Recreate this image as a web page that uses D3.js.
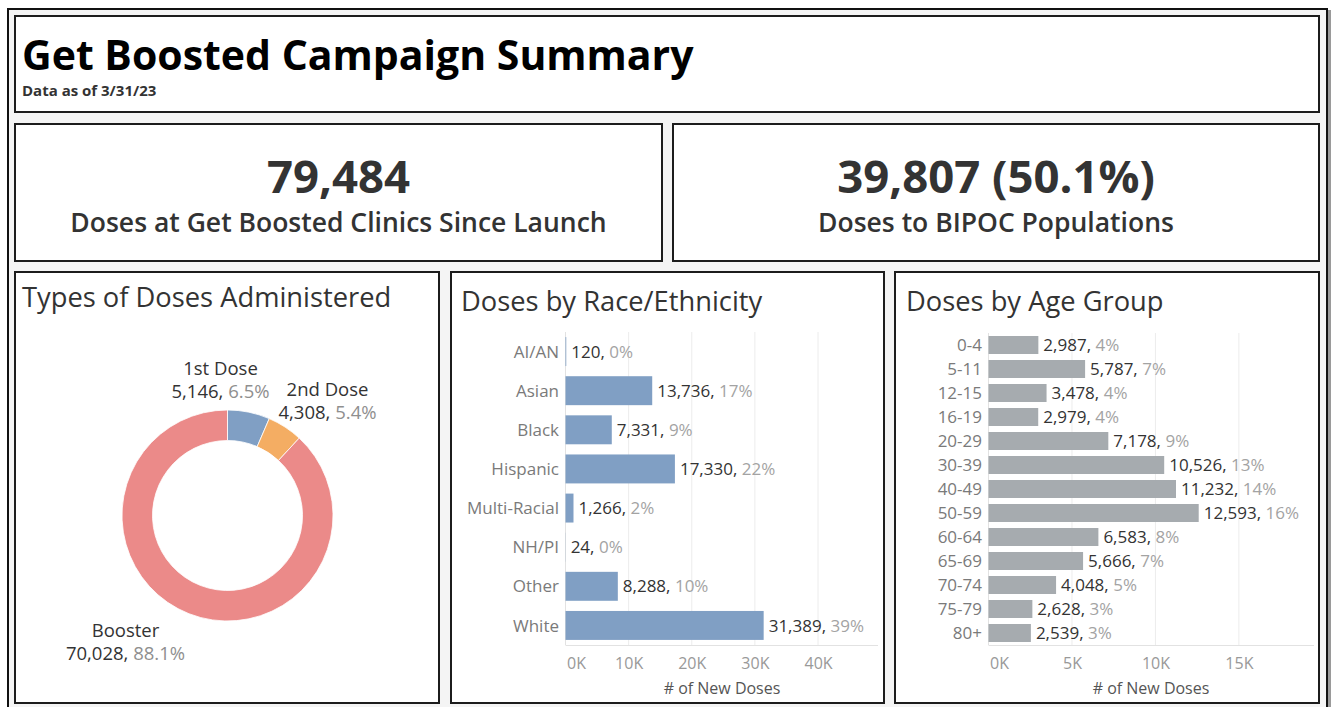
<!DOCTYPE html>
<html>
<head>
<meta charset="utf-8">
<script src="https://cdn.jsdelivr.net/npm/d3@7"></script>
<style>
  html, body { margin: 0; padding: 0; background: #fff; }
  svg { display: block; font-family: "Open Sans", "Noto Sans", sans-serif; }
</style>
</head>
<body>
<div id="dash"></div>
<script>
// ---- data ----
const doseTypes = ["1st Dose", "2nd Dose", "Booster"];
const doseValues = [5146, 4308, 70028];
const dosePct = ["6.5%", "5.4%", "88.1%"];

const raceCats = ["AI/AN", "Asian", "Black", "Hispanic", "Multi-Racial", "NH/PI", "Other", "White"];
const raceValues = [120, 13736, 7331, 17330, 1266, 24, 8288, 31389];
const racePct = ["0%", "17%", "9%", "22%", "2%", "0%", "10%", "39%"];
const raceTicks = [0, 10000, 20000, 30000, 40000];

const ageCats = ["0-4", "5-11", "12-15", "16-19", "20-29", "30-39", "40-49", "50-59", "60-64", "65-69", "70-74", "75-79", "80+"];
const ageValues = [2987, 5787, 3478, 2979, 7178, 10526, 11232, 12593, 6583, 5666, 4048, 2628, 2539];
const agePct = ["4%", "7%", "4%", "4%", "9%", "13%", "14%", "16%", "8%", "7%", "5%", "3%", "3%"];
const ageTicks = [0, 5000, 10000, 15000];

const kpis = [
    { value: "79,484", label: "Doses at Get Boosted Clinics Since Launch" },
    { value: "39,807 (50.1%)", label: "Doses to BIPOC Populations" }
];

// ---- layout ----
const width = 1331, height = 707;
const svg = d3.select('#dash').append('svg')
    .attr('width', width)
    .attr('height', height);

// 外框 + 灰色背景
svg.append('rect')
    .attr('x', 1328).attr('y', 10).attr('width', 3).attr('height', 697)
    .attr('fill', '#9a9a9a');
svg.append('rect')
    .attr('x', 8).attr('y', 9).attr('width', 1319).attr('height', 705)
    .attr('fill', '#f4f4f4').attr('stroke', '#111').attr('stroke-width', 2);

const panels = {
    title: { x: 15, y: 16, w: 1304, h: 96 },
    kpi1: { x: 15, y: 124, w: 647, h: 137 },
    kpi2: { x: 673, y: 124, w: 646, h: 137 },
    donut: { x: 15, y: 272, w: 424, h: 431 },
    race: { x: 451, y: 272, w: 433, h: 431 },
    age: { x: 895, y: 272, w: 424, h: 431 }
};

Object.values(panels).forEach(p => {
    svg.append('rect')
        .attr('x', p.x).attr('y', p.y).attr('width', p.w).attr('height', p.h)
        .attr('fill', '#fff')
        .attr('stroke', '#1c1c1c')
        .attr('stroke-width', 2);
});

// 标题
svg.append('text')
    .attr('x', 22).attr('y', 70)
    .style('font-size', '41px').style('font-weight', 'bold')
    .attr('fill', '#000')
    .text('Get Boosted Campaign Summary');
svg.append('text')
    .attr('x', 22).attr('y', 96)
    .style('font-size', '15px').style('font-weight', 'bold')
    .attr('fill', '#333')
    .text('Data as of 3/31/23');

// KPI
[panels.kpi1, panels.kpi2].forEach((p, i) => {
    const cx = p.x + p.w / 2;
    svg.append('text')
        .attr('x', cx).attr('y', 193)
        .attr('text-anchor', 'middle')
        .style('font-size', '45.5px').style('font-weight', 'bold')
        .attr('fill', '#333')
        .text(kpis[i].value);
    svg.append('text')
        .attr('x', cx).attr('y', 232)
        .attr('text-anchor', 'middle')
        .style('font-size', '26.5px').style('font-weight', '600')
        .attr('fill', '#333')
        .text(kpis[i].label);
});

// 面板标题
function panelTitle(x, y, t) {
    svg.append('text')
        .attr('x', x).attr('y', y)
        .style('font-size', '27.3px')
        .attr('fill', '#333')
        .text(t);
}
panelTitle(22, 307, 'Types of Doses Administered');
panelTitle(461, 311, 'Doses by Race/Ethnicity');
panelTitle(906, 311, 'Doses by Age Group');

// ---- donut ----
const doseColor = d3.scaleOrdinal()
    .domain(doseTypes)
    .range(['#809fc4', '#f4ad63', '#eb8a89']);

const pie = d3.pie().sort(null).value((d, i) => doseValues[i]);
const arcs = pie(doseTypes);
const arc = d3.arc().innerRadius(75).outerRadius(105.5);
const donutG = svg.append('g').attr('transform', 'translate(227.5,515.5)');

donutG.selectAll('path')
    .data(arcs)
    .join('path')
    .attr('d', arc)
    .attr('fill', d => doseColor(d.data))
    .attr('stroke', '#fff')
    .attr('stroke-width', 0.8);

// 标签位置 (相对圆心)
const labelOffset = {
    "1st Dose": [-7, -141],
    "2nd Dose": [100, -120],
    "Booster": [-102, 121]
};
arcs.forEach((a, i) => {
    const name = a.data;
    const [dx, dy] = labelOffset[name];
    const t = donutG.append('text')
        .attr('text-anchor', 'middle')
        .style('font-size', '18.5px')
        .attr('fill', '#333');
    t.append('tspan').attr('x', dx).attr('y', dy).text(name);
    const t2 = t.append('tspan').attr('x', dx).attr('y', dy + 23.5);
    t2.append('tspan').text(d3.format(',')(doseValues[i]) + ', ');
    t2.append('tspan').attr('fill', '#8f8f8f').text(dosePct[i]);
});

// ---- bar chart helper ----
function barChart(opts) {
    const { cats, values, pct, ticks, xMax, x0, x1, y0, y1, color, padding, labelX, titleX } = opts;
    const g = svg.append('g');

    const x = d3.scaleLinear().domain([0, xMax]).range([x0, x1]);
    const y = d3.scaleBand().domain(cats).range([y0, y1]).paddingInner(padding).paddingOuter(padding / 2);

    // 网格线
    g.selectAll('line.grid')
        .data(ticks)
        .join('line')
        .attr('class', 'grid')
        .attr('x1', d => x(d)).attr('x2', d => x(d))
        .attr('y1', y0).attr('y2', y1)
        .attr('stroke', d => d === 0 ? '#e2e2e2' : '#ececec')
        .attr('stroke-width', 1);

    g.append('line')
        .attr('x1', x0).attr('x2', x1)
        .attr('y1', y1 + 0.5).attr('y2', y1 + 0.5)
        .attr('stroke', '#e2e2e2');

    // 坐标轴
    const axis = g.append('g')
        .attr('transform', `translate(0,${y1})`)
        .call(d3.axisBottom(x).tickValues(ticks).tickSize(0).tickPadding(13)
            .tickFormat(d => (d / 1000) + 'K'));
    axis.select('.domain').remove();
    axis.selectAll('text')
        .style('font-size', '16px')
        .style('font-family', '"Open Sans", sans-serif')
        .attr('fill', '#999')
        .attr('text-anchor', d => d === 0 ? 'start' : 'middle')
        .attr('dx', d => d === 0 ? 1 : 0);

    g.append('text')
        .attr('x', titleX).attr('y', 694)
        .attr('text-anchor', 'middle')
        .style('font-size', '16px')
        .attr('fill', '#555')
        .text('# of New Doses');

    // 类别标签
    g.selectAll('text.cat')
        .data(cats)
        .join('text')
        .attr('class', 'cat')
        .attr('x', labelX)
        .attr('y', d => y(d) + y.bandwidth() / 2)
        .attr('dy', '0.36em')
        .attr('text-anchor', 'end')
        .style('font-size', '17px')
        .attr('fill', '#7a7a7a')
        .text(d => d);

    // 条形
    g.selectAll('rect.bar')
        .data(cats)
        .join('rect')
        .attr('class', 'bar')
        .attr('x', x(0))
        .attr('y', d => y(d))
        .attr('width', (d, i) => x(values[i]) - x(0))
        .attr('height', y.bandwidth())
        .attr('fill', color);

    // 数值标签
    const lbl = g.selectAll('text.val')
        .data(cats)
        .join('text')
        .attr('class', 'val')
        .attr('x', (d, i) => x(values[i]) + 5)
        .attr('y', d => y(d) + y.bandwidth() / 2)
        .attr('dy', '0.36em')
        .style('font-size', '17px')
        .attr('fill', '#333');
    lbl.append('tspan').text((d, i) => d3.format(',')(values[i]) + ', ');
    lbl.append('tspan').attr('fill', '#a3a3a3').text((d, i) => pct[i]);
}

barChart({
    cats: raceCats, values: raceValues, pct: racePct, ticks: raceTicks,
    xMax: 49500, x0: 565.5, x1: 878, y0: 332, y1: 645,
    color: '#809fc4', padding: 0.26, labelX: 559, titleX: 722
});

barChart({
    cats: ageCats, values: ageValues, pct: agePct, ticks: ageTicks,
    xMax: 19500, x0: 988.5, x1: 1314, y0: 333, y1: 645,
    color: '#a6abaf', padding: 0.25, labelX: 982, titleX: 1151
});
</script>
</body>
</html>
